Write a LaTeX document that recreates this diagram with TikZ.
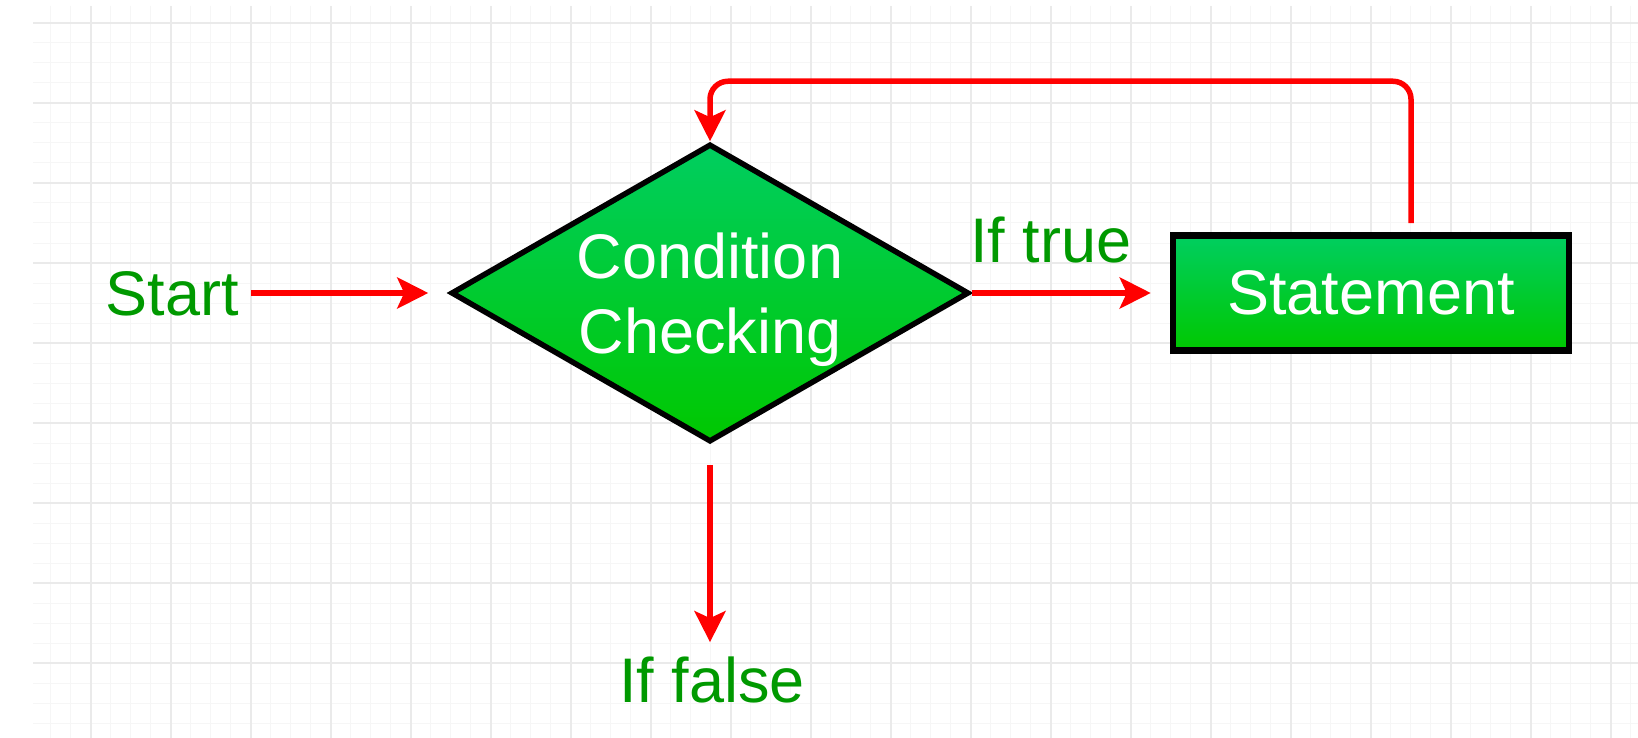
\documentclass[tikz,border=0pt]{standalone}
\usepackage{fontspec}
\setmainfont{Liberation Sans}
\usetikzlibrary{arrows.meta,shapes.geometric}
\definecolor{gridminor}{RGB}{246,246,246}
\definecolor{gridmajor}{RGB}{234,234,234}
\definecolor{txtgreen}{RGB}{0,153,0}
\definecolor{gtop}{RGB}{0,206,96}
\definecolor{gbot}{RGB}{0,200,0}
\definecolor{arrred}{RGB}{255,0,0}
\begin{document}
\begin{tikzpicture}[x=1pt,y=-1pt,
  big/.style={font=\fontsize{63}{75}\selectfont},
  lbl/.style={big, text=txtgreen, inner sep=0pt},
  arr/.style={draw=arrred, line width=5.5pt, -{Stealth[length=31pt,width=31pt,inset=7pt]}},
  greenfill/.style={top color=gtop, bottom color=gbot},
  decision/.style={diamond, draw=black, line width=5.5pt, greenfill, minimum width=518pt, minimum height=298pt, inner sep=0pt},
  stmtbox/.style={rectangle, draw=black, line width=6.5pt, greenfill, minimum width=396pt, minimum height=115pt, inner sep=0pt, big, text=white},
  intext/.style={big, text=white, align=center, inner sep=0pt}
]
\useasboundingbox (0,0) rectangle (1638,738);
\fill[white] (0,0) rectangle (1638,738);
% grid
\foreach \x in {50.7,70.7,...,1638} \draw[gridminor, line width=1pt] (\x,6) -- (\x,738);
\foreach \y in {23,43,...,738} \draw[gridminor, line width=1pt] (33,\y) -- (1638,\y);
\foreach \x in {90.7,170.7,...,1638} \draw[gridmajor, line width=1.6pt] (\x,6) -- (\x,738);
\foreach \y in {23,103,...,738} \draw[gridmajor, line width=1.6pt] (33,\y) -- (1638,\y);

% nodes
\node[decision] (cond) at (710,293) {};
\node[intext] (condtxt) at (710,300) {Condition\\Checking};
\node[stmtbox] (stmt) at (1371,293) {Statement};
\node[lbl, anchor=base east] (start) at (239,315) {Start};
\node[lbl, anchor=base] (iftrue) at (1051,262) {If true};
\node[lbl, anchor=base] (iffalse) at (712,702) {If false};

% connectors
\draw[arr, shorten <=12pt, shorten >=20pt] (start.east |- cond.west) -- (cond.west);
\draw[arr, shorten >=19pt] (cond.east) -- (stmt.west);
\draw[arr, shorten <=20pt, shorten >=14pt] (cond.south) -- (cond.south |- iffalse.north);
\draw[arr, rounded corners=18pt, shorten <=9pt] ([xshift=40pt]stmt.north) |- ([yshift=60pt]cond.north) -- (cond.north);
\end{tikzpicture}
\end{document}
